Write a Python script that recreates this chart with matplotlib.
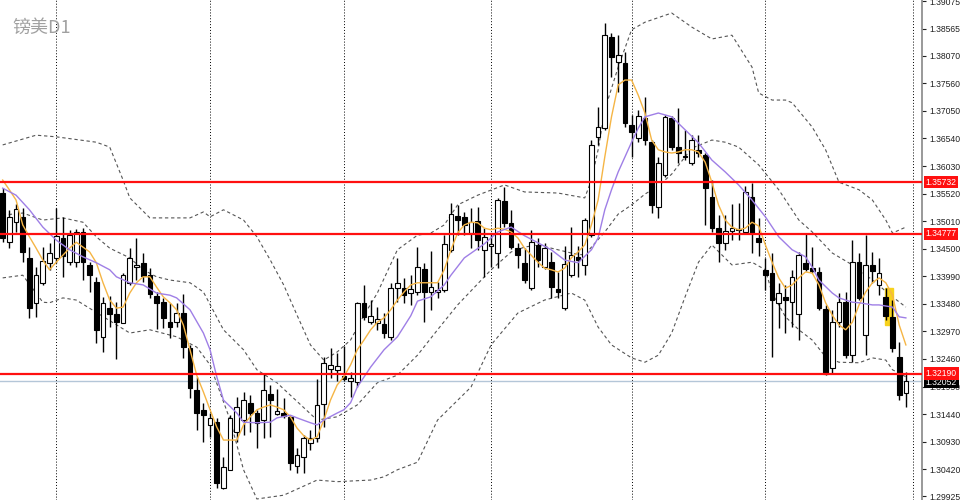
import numpy as np
import matplotlib
matplotlib.use("Agg")
import matplotlib.pyplot as plt
from matplotlib.patches import Rectangle

plt.rcParams['font.family'] = ['Noto Sans CJK SC', 'DejaVu Sans']

# daily candles, oldest first
opens = [1.3553, 1.3462, 1.3499, 1.3509, 1.3433, 1.3350, 1.3387, 1.3424, 1.3433, 1.3470,
         1.3425, 1.3425, 1.3481, 1.3420, 1.3388, 1.3287, 1.3340, 1.3329, 1.3313, 1.3387,
         1.3416, 1.3424, 1.3401, 1.3362, 1.3351, 1.3314, 1.3314, 1.3331, 1.3266, 1.3189,
         1.3152, 1.3124, 1.3129, 1.3007, 1.3041, 1.3111, 1.3133, 1.3165, 1.3146, 1.3133,
         1.3181, 1.3144, 1.3146, 1.3139, 1.3048, 1.3065, 1.3091, 1.3100, 1.3163, 1.3227,
         1.3226, 1.3215, 1.3205, 1.3203, 1.3350, 1.3314, 1.3313, 1.3311, 1.3287, 1.3377,
         1.3377, 1.3368, 1.3370, 1.3412, 1.3370, 1.3370, 1.3374, 1.3448, 1.3511, 1.3509,
         1.3479, 1.3501, 1.3448, 1.3455, 1.3442, 1.3538, 1.3498, 1.3451, 1.3424, 1.3377,
         1.3457, 1.3416, 1.3425, 1.3375, 1.3340, 1.3401, 1.3435, 1.3420, 1.3475, 1.3657,
         1.3673, 1.3842, 1.3795, 1.3794, 1.3679, 1.3655, 1.3692, 1.3647, 1.3527, 1.3586,
         1.3692, 1.3638, 1.3622, 1.3609, 1.3633, 1.3623, 1.3546, 1.3488, 1.3461, 1.3483,
         1.3486, 1.3481, 1.3546, 1.3470, 1.3411, 1.3405, 1.3350, 1.3361, 1.3351, 1.3329,
         1.3424, 1.3414, 1.3407, 1.3338, 1.3229, 1.3314, 1.3351, 1.3253, 1.3425, 1.3290,
         1.3420, 1.3383, 1.3361, 1.3324, 1.3250, 1.3183]
highs = [1.3562, 1.3522, 1.3533, 1.3525, 1.3453, 1.3416, 1.3453, 1.3461, 1.3525, 1.3509,
         1.3485, 1.3486, 1.3488, 1.3425, 1.3398, 1.3361, 1.3362, 1.3351, 1.3405, 1.3451,
         1.3470, 1.3442, 1.3414, 1.3370, 1.3359, 1.3350, 1.3350, 1.3366, 1.3272, 1.3213,
         1.3165, 1.3146, 1.3137, 1.3065, 1.3142, 1.3176, 1.3185, 1.3179, 1.3152, 1.3218,
         1.3198, 1.3190, 1.3174, 1.3142, 1.3081, 1.3105, 1.3115, 1.3209, 1.3250, 1.3266,
         1.3257, 1.3270, 1.3222, 1.3351, 1.3383, 1.3355, 1.3342, 1.3331, 1.3387, 1.3433,
         1.3396, 1.3401, 1.3453, 1.3424, 1.3446, 1.3388, 1.3475, 1.3535, 1.3531, 1.3518,
         1.3525, 1.3527, 1.3488, 1.3479, 1.3544, 1.3564, 1.3522, 1.3461, 1.3451, 1.3485,
         1.3470, 1.3461, 1.3444, 1.3407, 1.3455, 1.3490, 1.3455, 1.3507, 1.3651, 1.3712,
         1.3868, 1.3849, 1.3845, 1.3814, 1.3697, 1.3707, 1.3731, 1.3651, 1.3620, 1.3697,
         1.3696, 1.3710, 1.3670, 1.3660, 1.3660, 1.3627, 1.3577, 1.3512, 1.3512, 1.3533,
         1.3535, 1.3566, 1.3572, 1.3507, 1.3433, 1.3442, 1.3387, 1.3383, 1.3411, 1.3444,
         1.3479, 1.3453, 1.3416, 1.3346, 1.3337, 1.3368, 1.3370, 1.3466, 1.3442, 1.3475,
         1.3444, 1.3433, 1.3377, 1.3355, 1.3277, 1.3222]
lows = [1.3462, 1.3451, 1.3481, 1.3425, 1.3322, 1.3324, 1.3383, 1.3411, 1.3424, 1.3398,
        1.3420, 1.3416, 1.3392, 1.3370, 1.3276, 1.3259, 1.3305, 1.3246, 1.3313, 1.3383,
        1.3392, 1.3388, 1.3359, 1.3301, 1.3303, 1.3285, 1.3305, 1.3248, 1.3174, 1.3115,
        1.3092, 1.3102, 1.3007, 1.3005, 1.3041, 1.3092, 1.3105, 1.3111, 1.3081, 1.3100,
        1.3102, 1.3142, 1.3137, 1.3041, 1.3035, 1.3035, 1.3078, 1.3092, 1.3120, 1.3211,
        1.3205, 1.3205, 1.3176, 1.3194, 1.3318, 1.3311, 1.3300, 1.3285, 1.3281, 1.3351,
        1.3350, 1.3346, 1.3364, 1.3314, 1.3337, 1.3359, 1.3370, 1.3444, 1.3475, 1.3475,
        1.3451, 1.3448, 1.3398, 1.3416, 1.3414, 1.3490, 1.3449, 1.3414, 1.3387, 1.3374,
        1.3416, 1.3412, 1.3359, 1.3359, 1.3337, 1.3398, 1.3398, 1.3401, 1.3472, 1.3642,
        1.3670, 1.3768, 1.3740, 1.3675, 1.3620, 1.3647, 1.3642, 1.3516, 1.3507, 1.3583,
        1.3633, 1.3609, 1.3614, 1.3605, 1.3620, 1.3494, 1.3481, 1.3425, 1.3448, 1.3466,
        1.3466, 1.3477, 1.3442, 1.3437, 1.3374, 1.3250, 1.3303, 1.3294, 1.3305, 1.3281,
        1.3409, 1.3405, 1.3337, 1.3216, 1.3218, 1.3305, 1.3248, 1.3240, 1.3355, 1.3253,
        1.3387, 1.3364, 1.3318, 1.3259, 1.3170, 1.3157]
closes = [1.3470, 1.3509, 1.3523, 1.3444, 1.3340, 1.3401, 1.3427, 1.3442, 1.3474, 1.3437,
          1.3475, 1.3481, 1.3425, 1.3401, 1.3300, 1.3350, 1.3329, 1.3314, 1.3401, 1.3433,
          1.3420, 1.3399, 1.3366, 1.3350, 1.3322, 1.3305, 1.3331, 1.3268, 1.3192, 1.3146,
          1.3142, 1.3137, 1.3017, 1.3046, 1.3137, 1.3157, 1.3170, 1.3146, 1.3128, 1.3189,
          1.3170, 1.3150, 1.3140, 1.3054, 1.3068, 1.3100, 1.3100, 1.3161, 1.3239, 1.3235,
          1.3233, 1.3209, 1.3211, 1.3350, 1.3324, 1.3325, 1.3320, 1.3294, 1.3377, 1.3387,
          1.3364, 1.3375, 1.3416, 1.3370, 1.3379, 1.3374, 1.3459, 1.3514, 1.3503, 1.3494,
          1.3499, 1.3466, 1.3472, 1.3459, 1.3540, 1.3498, 1.3453, 1.3438, 1.3392, 1.3462,
          1.3429, 1.3451, 1.3379, 1.3370, 1.3422, 1.3438, 1.3429, 1.3503, 1.3642, 1.3675,
          1.3845, 1.3805, 1.3808, 1.3683, 1.3666, 1.3696, 1.3651, 1.3531, 1.3609, 1.3694,
          1.3638, 1.3627, 1.3620, 1.3651, 1.3627, 1.3562, 1.3488, 1.3461, 1.3483, 1.3488,
          1.3485, 1.3555, 1.3479, 1.3462, 1.3401, 1.3355, 1.3368, 1.3355, 1.3398, 1.3438,
          1.3412, 1.3409, 1.3340, 1.3218, 1.3314, 1.3351, 1.3253, 1.3425, 1.3359, 1.3420,
          1.3409, 1.3405, 1.3325, 1.3266, 1.3179, 1.32052]

# fast moving average (orange), one value per candle
ma_fast = [1.3577, 1.3559, 1.3540, 1.3494, 1.3472, 1.3451, 1.3429, 1.3411, 1.3425, 1.3438,
           1.3451, 1.3462, 1.3453, 1.3444, 1.3424, 1.3387, 1.3355, 1.3340, 1.3342, 1.3368,
           1.3387, 1.3398, 1.3398, 1.3379, 1.3361, 1.3350, 1.3337, 1.3309, 1.3263, 1.3216,
           1.3185, 1.3152, 1.3120, 1.3096, 1.3096, 1.3096, 1.3124, 1.3139, 1.3152, 1.3157,
           1.3161, 1.3157, 1.3152, 1.3139, 1.3118, 1.3104, 1.3096, 1.3102, 1.3133, 1.3170,
           1.3198, 1.3213, 1.3235, 1.3263, 1.3281, 1.3300, 1.3314, 1.3322, 1.3337, 1.3355,
           1.3370, 1.3383, 1.3387, 1.3387, 1.3387, 1.3387, 1.3411, 1.3448, 1.3479, 1.3494,
           1.3499, 1.3498, 1.3488, 1.3485, 1.3488, 1.3486, 1.3481, 1.3470, 1.3451, 1.3438,
           1.3425, 1.3414, 1.3411, 1.3407, 1.3414, 1.3433, 1.3444, 1.3457, 1.3494, 1.3540,
           1.3620, 1.3694, 1.3753, 1.3762, 1.3762, 1.3734, 1.3701, 1.3651, 1.3633, 1.3629,
           1.3627, 1.3629, 1.3633, 1.3633, 1.3629, 1.3610, 1.3573, 1.3531, 1.3503, 1.3490,
           1.3485, 1.3488, 1.3499, 1.3492, 1.3457, 1.3425, 1.3396, 1.3377, 1.3383, 1.3396,
           1.3407, 1.3405, 1.3383, 1.3350, 1.3327, 1.3309, 1.3300, 1.3314, 1.3346, 1.3370,
           1.3387, 1.3396, 1.3387, 1.3364, 1.3309, 1.3272]

# slow moving average (purple), read at selected candles
ma_slow_idx = [0, 2, 4, 6, 8, 10, 12, 14, 16, 17, 19, 21, 23, 25, 26, 28, 30, 31, 32, 33,
               35, 36, 38, 40, 41, 43, 44, 46, 47, 48, 50, 51, 52, 53, 55, 57, 59, 61, 62, 64,
               66, 67, 69, 72, 74, 76, 78, 80, 82, 84, 86, 88, 89, 90, 91, 92, 94, 95, 96, 98,
               100, 102, 104, 106, 108, 110, 112, 114, 116, 118, 120, 121, 122, 124, 125, 127,
               128, 130, 131, 133, 134, 135]
ma_slow = [1.3562, 1.3549, 1.3522, 1.3490, 1.3466, 1.3448, 1.3435, 1.3424, 1.3411, 1.3398,
           1.3387, 1.3383, 1.3368, 1.3364, 1.3359, 1.3337, 1.3294, 1.3263, 1.3213, 1.3170,
           1.3146, 1.3129, 1.3128, 1.3129, 1.3137, 1.3142, 1.3137, 1.3128, 1.3124, 1.3133,
           1.3146, 1.3152, 1.3165, 1.3194, 1.3231, 1.3263, 1.3287, 1.3326, 1.3353, 1.3361,
           1.3383, 1.3401, 1.3433, 1.3459, 1.3481, 1.3490, 1.3474, 1.3461, 1.3448, 1.3429,
           1.3424, 1.3448, 1.3470, 1.3522, 1.3559, 1.3592, 1.3647, 1.3673, 1.3694, 1.3701,
           1.3694, 1.3670, 1.3646, 1.3614, 1.3592, 1.3568, 1.3540, 1.3509, 1.3472, 1.3448,
           1.3435, 1.3416, 1.3392, 1.3368, 1.3359, 1.3351, 1.3350, 1.3346, 1.3346, 1.3342,
           1.3324, 1.3322]

# bollinger bands, read at selected candles
bb_up_idx = [0, 5, 8, 14, 16, 18, 19, 22, 26, 28, 30, 31, 33, 36, 38, 40, 42, 44, 46, 48,
             50, 52, 54, 56, 59, 62, 64, 66, 68, 71, 75, 78, 83, 87, 88, 89, 90, 92, 94, 96,
             100, 103, 106, 109, 112, 113, 115, 117, 118, 121, 123, 125, 128, 130, 132, 133, 135]
bb_up = [1.3642, 1.3660, 1.3657, 1.3647, 1.3638, 1.3577, 1.3544, 1.3507, 1.3507, 1.3507,
         1.3518, 1.3509, 1.3522, 1.3503, 1.3472, 1.3429, 1.3383, 1.3327, 1.3272, 1.3244,
         1.3259, 1.3281, 1.3327, 1.3368, 1.3448, 1.3475, 1.3479, 1.3494, 1.3531, 1.3549,
         1.3568, 1.3555, 1.3553, 1.3544, 1.3577, 1.3633, 1.3707, 1.3786, 1.3855, 1.3869,
         1.3886, 1.3860, 1.3838, 1.3845, 1.3786, 1.3738, 1.3725, 1.3725, 1.3720, 1.3675,
         1.3633, 1.3573, 1.3559, 1.3540, 1.3503, 1.3479, 1.3490]
bb_mid_idx = [0, 3, 6, 9, 12, 14, 16, 19, 21, 23, 25, 28, 30, 33, 36, 38, 41, 43, 47, 50,
              53, 56, 59, 62, 65, 68, 73, 76, 78, 80, 82, 85, 87, 88, 90, 92, 94, 96, 98, 100,
              103, 106, 108, 110, 113, 116, 119, 121, 124, 127, 130, 133, 135]
bb_mid = [1.3512, 1.3516, 1.3503, 1.3507, 1.3499, 1.3472, 1.3451, 1.3433, 1.3411, 1.3398,
          1.3392, 1.3387, 1.3370, 1.3300, 1.3263, 1.3226, 1.3202, 1.3179, 1.3133, 1.3139,
          1.3161, 1.3202, 1.3216, 1.3253, 1.3300, 1.3346, 1.3411, 1.3444, 1.3453, 1.3457,
          1.3451, 1.3442, 1.3438, 1.3453, 1.3481, 1.3514, 1.3531, 1.3551, 1.3566, 1.3588,
          1.3636, 1.3651, 1.3647, 1.3638, 1.3605, 1.3559, 1.3503, 1.3481, 1.3442, 1.3420,
          1.3392, 1.3361, 1.3342]
bb_low_idx = [0, 3, 6, 7, 9, 11, 19, 22, 26, 29, 31, 34, 36, 38, 42, 47, 50, 55, 57, 59,
              62, 65, 70, 73, 77, 81, 85, 87, 89, 91, 94, 96, 98, 100, 102, 104, 106, 109,
              112, 114, 115, 117, 119, 121, 123, 125, 128, 130, 132, 133, 135]
bb_low = [1.3396, 1.3401, 1.3351, 1.3350, 1.3359, 1.3355, 1.3294, 1.3300, 1.3287, 1.3268,
          1.3235, 1.3133, 1.3041, 1.2987, 1.2994, 1.3022, 1.3019, 1.3022, 1.3028, 1.3041,
          1.3055, 1.3133, 1.3194, 1.3272, 1.3331, 1.3355, 1.3368, 1.3355, 1.3305, 1.3272,
          1.3248, 1.3240, 1.3253, 1.3294, 1.3361, 1.3425, 1.3457, 1.3420, 1.3425, 1.3411,
          1.3368, 1.3324, 1.3300, 1.3281, 1.3250, 1.3240, 1.3239, 1.3248, 1.3244, 1.3226,
          1.3213]

levels = [1.35732, 1.34777, 1.32190]
bid = 1.32052
month_starts = [8, 31, 51, 73, 94, 114, 136]
yticks = [1.39075, 1.38565, 1.38070, 1.37560, 1.37050, 1.36540, 1.36030, 1.35520,
          1.35010, 1.34500, 1.33990, 1.33480, 1.32970, 1.32460, 1.31950, 1.31440,
          1.30930, 1.30420, 1.29925]

fig = plt.figure(figsize=(9.6, 5.0), dpi=100)
ax = fig.add_axes([0, 0, 922 / 960, 1])
ax.set_xlim(-0.40, 137.41)
ax.set_ylim(1.29851, 1.39101)

for m in month_starts:
    ax.axvline(m, color='black', lw=0.7, ls=(0, (1, 2)), zorder=1)

x = np.arange(len(closes))
o = np.array(opens); c = np.array(closes)
ax.vlines(x, lows, highs, color='black', lw=1, zorder=3)
up = c >= o
body_lo = np.minimum(o, c)
body_h = np.maximum(np.abs(c - o), 0.00008)
ax.bar(x[up], body_h[up], bottom=body_lo[up], width=0.7, color='white',
       edgecolor='black', lw=0.8, zorder=4)
ax.bar(x[~up], body_h[~up], bottom=body_lo[~up], width=0.7, color='black',
       edgecolor='black', lw=0.8, zorder=4)

# highlighted candle
ax.add_patch(Rectangle((131.9, 1.3308), 1.15, 0.0070, color='#f7d21c', zorder=2.5))

dash = (0, (3, 2.5))
ax.plot(bb_up_idx, bb_up, color='#555555', lw=0.8, ls=dash, zorder=2)
ax.plot(bb_mid_idx, bb_mid, color='#555555', lw=0.8, ls=dash, zorder=2)
ax.plot(bb_low_idx, bb_low, color='#555555', lw=0.8, ls=dash, zorder=2)
ax.plot(x, ma_fast, color='#f5b545', lw=1.0, zorder=5)
ax.plot(ma_slow_idx, ma_slow, color='#9f7fe6', lw=1.0, zorder=5)

ax.axhline(bid, color='#b4c6d8', lw=1, zorder=2)
for lv in levels:
    ax.axhline(lv, color='#ff1010', lw=1.6, zorder=6)

lab_font = dict(family='Liberation Sans', size=6.2)
ax.yaxis.tick_right()
ax.set_yticks(yticks)
ax.set_yticklabels(['%.5f' % t for t in yticks], fontdict=lab_font)
ax.tick_params(axis='y', direction='out', length=3, width=0.8, colors='#222222', pad=2)
ax.set_xticks([])
for s in ['top', 'left', 'bottom']:
    ax.spines[s].set_visible(False)
ax.spines['right'].set_color('#888888')
ax.spines['right'].set_linewidth(1.2)

tr = ax.get_yaxis_transform()
ax.text(1.004, bid - 0.0002, '%.5f' % bid, transform=tr, color='white',
        va='center', ha='left', clip_on=False, zorder=9, fontdict=lab_font,
        bbox=dict(boxstyle='square,pad=0.2', fc='black', ec='none'))
for lv in levels:
    ax.text(1.004, lv, '%.5f' % lv, transform=tr, color='white',
            va='center', ha='left', clip_on=False, zorder=10, fontdict=lab_font,
            bbox=dict(boxstyle='square,pad=0.2', fc='#ff1010', ec='none'))

fig.text(12 / 960, 1 - 28 / 500, '镑美D1', fontsize=13, color='#a0a0a0',
         va='center', ha='left')

fig.savefig('out.png', dpi=100)
